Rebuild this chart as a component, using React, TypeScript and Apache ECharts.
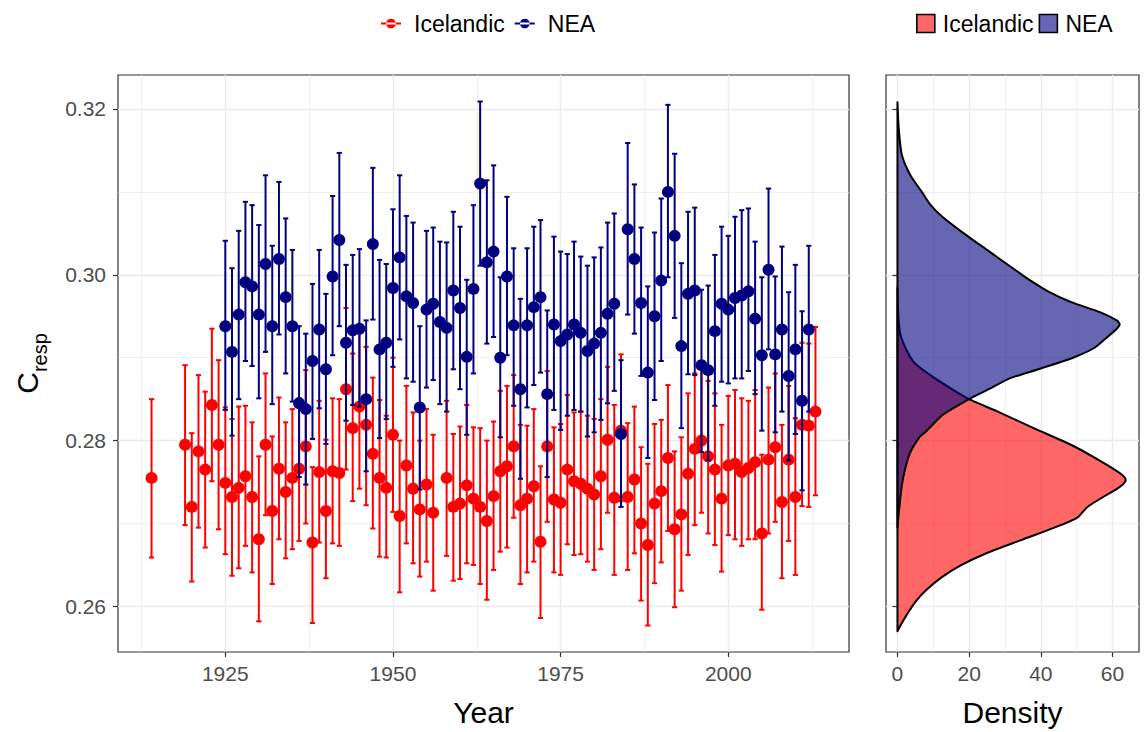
import React, { useEffect, useRef } from "react";
import * as echarts from "echarts";

// ---------- data ----------
const icelandicYears = [1914, 1919, 1920, 1921, 1922, 1923, 1924, 1925, 1926, 1927, 1928, 1929, 1930, 1931, 1932, 1933, 1934, 1935, 1936, 1937, 1938, 1939, 1940, 1941, 1942, 1943, 1944, 1945, 1946, 1947, 1948, 1949, 1950, 1951, 1952, 1953, 1954, 1955, 1956, 1958, 1959, 1960, 1961, 1962, 1963, 1964, 1965, 1966, 1967, 1968, 1969, 1970, 1971, 1972, 1973, 1974, 1975, 1976, 1977, 1978, 1979, 1980, 1981, 1982, 1983, 1984, 1985, 1986, 1987, 1988, 1989, 1990, 1991, 1992, 1993, 1994, 1995, 1996, 1997, 1998, 1999, 2000, 2001, 2002, 2003, 2004, 2005, 2006, 2007, 2008, 2009, 2010, 2011, 2012, 2013];
const icelandicMean = [0.2755, 0.2795, 0.2720, 0.2787, 0.2765, 0.2843, 0.2795, 0.2749, 0.2732, 0.2743, 0.2757, 0.2732, 0.2681, 0.2795, 0.2715, 0.2766, 0.2738, 0.2755, 0.2766, 0.2793, 0.2677, 0.2762, 0.2715, 0.2763, 0.2761, 0.2862, 0.2815, 0.2841, 0.2819, 0.2784, 0.2755, 0.2743, 0.2807, 0.2709, 0.2770, 0.2742, 0.2717, 0.2747, 0.2713, 0.2755, 0.2720, 0.2724, 0.2746, 0.2730, 0.2720, 0.2703, 0.2733, 0.2763, 0.2769, 0.2793, 0.2722, 0.2730, 0.2745, 0.2678, 0.2793, 0.2729, 0.2725, 0.2765, 0.2751, 0.2748, 0.2742, 0.2735, 0.2757, 0.2801, 0.2731, 0.2812, 0.2732, 0.2753, 0.2700, 0.2674, 0.2724, 0.2739, 0.2779, 0.2693, 0.2711, 0.2760, 0.2790, 0.2800, 0.2781, 0.2765, 0.2730, 0.2770, 0.2772, 0.2762, 0.2767, 0.2774, 0.2688, 0.2777, 0.2792, 0.2726, 0.2777, 0.2732, 0.2819, 0.2818, 0.2835];
const icelandicLow = [0.2659, 0.2698, 0.2630, 0.2695, 0.2671, 0.2751, 0.2693, 0.2663, 0.2637, 0.2646, 0.2673, 0.2641, 0.2582, 0.2710, 0.2627, 0.2681, 0.2658, 0.2669, 0.2679, 0.2700, 0.2580, 0.2677, 0.2634, 0.2676, 0.2673, 0.2765, 0.2727, 0.2742, 0.2722, 0.2694, 0.2660, 0.2659, 0.2714, 0.2617, 0.2676, 0.2652, 0.2636, 0.2654, 0.2619, 0.2661, 0.2631, 0.2633, 0.2652, 0.2650, 0.2627, 0.2608, 0.2644, 0.2666, 0.2671, 0.2707, 0.2627, 0.2641, 0.2654, 0.2586, 0.2702, 0.2641, 0.2638, 0.2675, 0.2662, 0.2663, 0.2654, 0.2644, 0.2669, 0.2713, 0.2638, 0.2727, 0.2644, 0.2664, 0.2607, 0.2577, 0.2628, 0.2653, 0.2691, 0.2599, 0.2619, 0.2662, 0.2698, 0.2713, 0.2688, 0.2674, 0.2642, 0.2686, 0.2681, 0.2673, 0.2681, 0.2681, 0.2596, 0.2688, 0.2702, 0.2634, 0.2679, 0.2638, 0.2721, 0.2720, 0.2734];
const icelandicHigh = [0.2850, 0.2891, 0.2809, 0.2879, 0.2859, 0.2935, 0.2897, 0.2840, 0.2826, 0.2841, 0.2842, 0.2822, 0.2781, 0.2881, 0.2805, 0.2852, 0.2822, 0.2838, 0.2851, 0.2885, 0.2768, 0.2848, 0.2801, 0.2851, 0.2850, 0.2960, 0.2905, 0.2938, 0.2913, 0.2876, 0.2849, 0.2830, 0.2900, 0.2800, 0.2866, 0.2834, 0.2800, 0.2838, 0.2807, 0.2848, 0.2808, 0.2817, 0.2843, 0.2816, 0.2815, 0.2800, 0.2823, 0.2860, 0.2866, 0.2879, 0.2819, 0.2818, 0.2838, 0.2769, 0.2884, 0.2816, 0.2820, 0.2855, 0.2834, 0.2835, 0.2830, 0.2826, 0.2850, 0.2889, 0.2843, 0.2904, 0.2821, 0.2841, 0.2792, 0.2772, 0.2820, 0.2825, 0.2867, 0.2787, 0.2804, 0.2857, 0.2881, 0.2888, 0.2872, 0.2857, 0.2819, 0.2854, 0.2861, 0.2851, 0.2848, 0.2861, 0.2783, 0.2864, 0.2881, 0.2819, 0.2866, 0.2827, 0.2918, 0.2917, 0.2937];

const neaYears = [1925, 1926, 1927, 1928, 1929, 1930, 1931, 1932, 1933, 1934, 1935, 1936, 1937, 1938, 1939, 1940, 1941, 1942, 1943, 1944, 1945, 1946, 1947, 1948, 1949, 1950, 1951, 1952, 1953, 1954, 1955, 1956, 1957, 1958, 1959, 1960, 1961, 1962, 1963, 1964, 1965, 1966, 1967, 1968, 1969, 1970, 1971, 1972, 1973, 1974, 1975, 1976, 1977, 1978, 1979, 1980, 1981, 1982, 1983, 1984, 1985, 1986, 1987, 1988, 1989, 1990, 1991, 1992, 1993, 1994, 1995, 1996, 1997, 1998, 1999, 2000, 2001, 2002, 2003, 2004, 2005, 2006, 2007, 2008, 2009, 2010, 2011, 2012];
const neaMean = [0.2938, 0.2907, 0.2952, 0.2991, 0.2986, 0.2952, 0.3013, 0.2938, 0.3019, 0.2973, 0.2938, 0.2845, 0.2838, 0.2896, 0.2934, 0.2886, 0.2998, 0.3042, 0.2918, 0.2933, 0.2935, 0.2850, 0.3037, 0.2910, 0.2918, 0.2984, 0.3021, 0.2974, 0.2966, 0.2840, 0.2958, 0.2965, 0.2943, 0.2936, 0.2981, 0.2960, 0.2901, 0.2983, 0.3110, 0.3015, 0.3028, 0.2900, 0.2998, 0.2939, 0.2862, 0.2939, 0.2961, 0.2973, 0.2856, 0.2940, 0.2920, 0.2928, 0.2940, 0.2930, 0.2908, 0.2917, 0.2930, 0.2953, 0.2965, 0.2808, 0.3055, 0.3019, 0.2966, 0.2882, 0.2950, 0.2993, 0.3100, 0.3047, 0.2914, 0.2977, 0.2981, 0.2891, 0.2885, 0.2932, 0.2965, 0.2958, 0.2972, 0.2975, 0.2980, 0.2947, 0.2903, 0.3006, 0.2904, 0.2934, 0.2878, 0.2910, 0.2848, 0.2934];
const neaLow = [0.2837, 0.2806, 0.2850, 0.2896, 0.2890, 0.2851, 0.2907, 0.2844, 0.2928, 0.2881, 0.2847, 0.2756, 0.2747, 0.2802, 0.2839, 0.2796, 0.2903, 0.2938, 0.2824, 0.2843, 0.2841, 0.2763, 0.2946, 0.2803, 0.2826, 0.2889, 0.2922, 0.2875, 0.2871, 0.2741, 0.2864, 0.2873, 0.2844, 0.2835, 0.2886, 0.2862, 0.2807, 0.2881, 0.3011, 0.2917, 0.2925, 0.2804, 0.2903, 0.2842, 0.2754, 0.2840, 0.2867, 0.2882, 0.2756, 0.2837, 0.2813, 0.2830, 0.2837, 0.2835, 0.2805, 0.2810, 0.2825, 0.2845, 0.2860, 0.2720, 0.2952, 0.2929, 0.2878, 0.2779, 0.2849, 0.2896, 0.2997, 0.2948, 0.2815, 0.2880, 0.2879, 0.2786, 0.2776, 0.2842, 0.2871, 0.2869, 0.2875, 0.2875, 0.2884, 0.2856, 0.2812, 0.2910, 0.2810, 0.2835, 0.2776, 0.2808, 0.2740, 0.2835];
const neaHigh = [0.3041, 0.3008, 0.3053, 0.3088, 0.3084, 0.3060, 0.3120, 0.3035, 0.3112, 0.3068, 0.3030, 0.2938, 0.2929, 0.2989, 0.3030, 0.2977, 0.3095, 0.3147, 0.3012, 0.3024, 0.3031, 0.2945, 0.3129, 0.3018, 0.3013, 0.3079, 0.3120, 0.3071, 0.3063, 0.2938, 0.3053, 0.3057, 0.3040, 0.3039, 0.3076, 0.3058, 0.2994, 0.3084, 0.3209, 0.3114, 0.3132, 0.2997, 0.3094, 0.3032, 0.2971, 0.3032, 0.3058, 0.3066, 0.2957, 0.3046, 0.3028, 0.3025, 0.3040, 0.3022, 0.3011, 0.3021, 0.3033, 0.3063, 0.3074, 0.2897, 0.3159, 0.3109, 0.3057, 0.2986, 0.3051, 0.3092, 0.3205, 0.3146, 0.3014, 0.3076, 0.3081, 0.2982, 0.2987, 0.3024, 0.3058, 0.3047, 0.3070, 0.3078, 0.3080, 0.3040, 0.2997, 0.3104, 0.2998, 0.3034, 0.2979, 0.3012, 0.2956, 0.3035];

// density curves (value of C_resp, density), from top to bottom
const icelandicDensityY = [0.2985, 0.2945, 0.2925, 0.2895, 0.2875, 0.2860, 0.2850, 0.2835, 0.2815, 0.2795, 0.2775, 0.2760, 0.27525, 0.2745, 0.2735, 0.2720, 0.27075, 0.2695, 0.2680, 0.2665, 0.2650, 0.2635, 0.2620, 0.2605, 0.2590, 0.25775, 0.2570];
const icelandicDensity = [0, 0.3, 1.0, 4.5, 10.5, 16, 20, 28, 38, 48.4, 56.8, 62.3, 63.7, 62.3, 58.6, 53, 50.3, 43.8, 34.5, 25.3, 17.9, 12.3, 8.1, 4.9, 2.6, 0.9, 0];
const neaDensityY = [0.3208, 0.3180, 0.3145, 0.3120, 0.3100, 0.3085, 0.3070, 0.3050, 0.3030, 0.3010, 0.2995, 0.2980, 0.2967, 0.2955, 0.2945, 0.2940, 0.2935, 0.2925, 0.2912, 0.2900, 0.2887, 0.28745, 0.2862, 0.2850, 0.2835, 0.2830, 0.2810, 0.2805, 0.2785, 0.2765, 0.2745, 0.2710, 0.2695];
const neaDensity = [0, 0.3, 1.2, 3.6, 6.8, 9.1, 12.5, 18.5, 25, 31.5, 36.4, 42, 48.5, 56.5, 61.2, 62, 61.2, 58.6, 55, 49, 40, 31, 25.5, 20, 14, 12.3, 7.7, 6.3, 3.5, 2.1, 1.2, 0.3, 0];

const yearTicks = [1925, 1950, 1975, 2000];
const yearMinor = [1912.5, 1937.5, 1962.5, 1987.5, 2012.5];
const cTicks = [0.26, 0.28, 0.30, 0.32];
const cMinor = [0.27, 0.29, 0.31];
const densityTicks = [0, 20, 40, 60];
const densityMinor = [10, 30, 50];

const RED = "#FF0000";
const NAVY = "#000080";
const RED_FILL = "rgba(255,0,0,0.6)";
const NAVY_FILL = "rgba(0,0,128,0.6)";
const FONT = "'Liberation Sans', Arial, Helvetica, sans-serif";

const KEY_ICON = "path://M0,4h20v2h-20z M10,0.2a4.8,4.8 0 1,0 0.001,0z";

function errorBarSeries(name: string, years: number[], lo: number[], hi: number[], color: string, z: number) {
  return {
    type: "custom",
    xAxisIndex: 0,
    yAxisIndex: 0,
    z,
    silent: true,
    data: years.map((y, i) => [y, lo[i], hi[i]]),
    encode: { x: 0, y: [1, 2] },
    renderItem: (params: any, api: any) => {
      const x = api.value(0);
      const pLo = api.coord([x, api.value(1)]);
      const pHi = api.coord([x, api.value(2)]);
      const cap = 2.6;
      const st = { stroke: color, lineWidth: 2 };
      return {
        type: "group",
        children: [
          { type: "line", shape: { x1: pLo[0], y1: pLo[1], x2: pHi[0], y2: pHi[1] }, style: st },
          { type: "line", shape: { x1: pLo[0] - cap, y1: pLo[1], x2: pLo[0] + cap, y2: pLo[1] }, style: st },
          { type: "line", shape: { x1: pHi[0] - cap, y1: pHi[1], x2: pHi[0] + cap, y2: pHi[1] }, style: st },
        ],
      };
    },
  };
}

function densitySeries(name: string, ys: number[], ds: number[], fill: string, z: number) {
  return {
    type: "custom",
    name,
    xAxisIndex: 2,
    yAxisIndex: 2,
    z,
    silent: true,
    data: ds.map((d, i) => [d, ys[i]]),
    encode: { x: 0, y: 1 },
    itemStyle: { color: fill },
    renderItem: (params: any, api: any) => {
      if (params.dataIndex !== 0) return null;
      const pts: number[][] = [];
      pts.push(api.coord([0, ys[0]]));
      for (let i = 0; i < ys.length; i++) pts.push(api.coord([ds[i], ys[i]]));
      pts.push(api.coord([0, ys[ys.length - 1]]));
      return {
        type: "polygon",
        shape: { points: pts, smooth: 0.25 },
        style: { fill, stroke: "#000000", lineWidth: 2, lineJoin: "round" },
      };
    },
  };
}

const majorSplit = { show: true, lineStyle: { color: "#EBEBEB", width: 1.4 } };
const minorSplit = { show: true, lineStyle: { color: "#EBEBEB", width: 0.7 } };
const tickStyle = { show: true, inside: false, length: 5, lineStyle: { color: "#333333", width: 1.2 } };
const labelStyle = { color: "#4D4D4D", fontSize: 21, fontFamily: FONT };

export default function App() {
  const ref = useRef<HTMLDivElement>(null);
  useEffect(() => {
    document.body.style.margin = "0";
    const chart = echarts.init(ref.current!, null, { renderer: "svg" });
    const option: any = {
      animation: false,
      backgroundColor: "#FFFFFF",
      textStyle: { fontFamily: FONT },
      grid: [
        { left: 118, top: 75, width: 731, height: 587, show: true, borderColor: "#333333", borderWidth: 1.2, backgroundColor: "#FFFFFF" },
        { left: 886, top: 75, width: 253, height: 587, show: true, borderColor: "#333333", borderWidth: 1.2, backgroundColor: "#FFFFFF" },
      ],
      legend: [
        {
          left: 376,
          top: 7,
          itemWidth: 20,
          itemHeight: 10,
          itemGap: 10,
          selectedMode: false,
          textStyle: { fontSize: 23, color: "#000000", fontFamily: FONT, padding: [0, 0, 0, 8] },
          data: [
            { name: "Icelandic", icon: KEY_ICON, itemStyle: { color: RED } },
            { name: "NEA", icon: KEY_ICON, itemStyle: { color: NAVY } },
          ],
        },
        {
          left: 911,
          top: 7,
          itemWidth: 18,
          itemHeight: 18,
          itemGap: 5,
          selectedMode: false,
          textStyle: { fontSize: 23, color: "#000000", fontFamily: FONT, padding: [0, 0, 0, 3] },
          data: [
            { name: "Icelandic", icon: "rect", itemStyle: { color: RED_FILL, borderColor: "#000000", borderWidth: 1.6 } },
            { name: "NEA", icon: "rect", itemStyle: { color: NAVY_FILL, borderColor: "#000000", borderWidth: 1.6 } },
          ],
        },
      ],
      xAxis: [
        {
          type: "value", gridIndex: 0, min: 1909, max: 2018, position: "bottom",
          axisLine: { show: false },
          axisTick: { ...tickStyle, customValues: yearTicks },
          axisLabel: { ...labelStyle, margin: 11, customValues: yearTicks, formatter: (v: number) => String(v) },
          splitLine: majorSplit,
          name: "Year", nameLocation: "middle", nameGap: 45,
          nameTextStyle: { fontSize: 30, color: "#000000", fontFamily: FONT },
        },
        {
          type: "value", gridIndex: 0, min: 1909, max: 2018, position: "bottom",
          axisLine: { show: false },
          axisTick: { show: false, customValues: yearMinor },
          axisLabel: { show: false },
          splitLine: minorSplit,
        },
        {
          type: "value", gridIndex: 1, min: -3.2, max: 67.4, position: "bottom",
          axisLine: { show: false },
          axisTick: { ...tickStyle, customValues: densityTicks },
          axisLabel: { ...labelStyle, margin: 11, customValues: densityTicks, formatter: (v: number) => String(v) },
          splitLine: majorSplit,
          name: "Density", nameLocation: "middle", nameGap: 45,
          nameTextStyle: { fontSize: 30, color: "#000000", fontFamily: FONT },
        },
        {
          type: "value", gridIndex: 1, min: -3.2, max: 67.4, position: "bottom",
          axisLine: { show: false },
          axisTick: { show: false, customValues: densityMinor },
          axisLabel: { show: false },
          splitLine: minorSplit,
        },
      ],
      yAxis: [
        {
          type: "value", gridIndex: 0, min: 0.2545, max: 0.3241, position: "left",
          axisLine: { show: false },
          axisTick: { ...tickStyle, customValues: cTicks },
          axisLabel: { ...labelStyle, margin: 12, customValues: cTicks, formatter: (v: number) => v.toFixed(2) },
          splitLine: majorSplit,
          name: "{c|C}{s|resp}", nameLocation: "middle", nameGap: 76, nameRotate: 90,
          nameTextStyle: {
            rich: {
              c: { fontSize: 30, color: "#000000", fontFamily: FONT, verticalAlign: "bottom", lineHeight: 32 },
              s: { fontSize: 20, color: "#000000", fontFamily: FONT, verticalAlign: "bottom", lineHeight: 22, padding: [0, 0, -8, 0] },
            },
          },
        },
        {
          type: "value", gridIndex: 0, min: 0.2545, max: 0.3241, position: "left",
          axisLine: { show: false },
          axisTick: { show: false, customValues: cMinor },
          axisLabel: { show: false },
          splitLine: minorSplit,
        },
        {
          type: "value", gridIndex: 1, min: 0.2545, max: 0.3241, position: "left",
          axisLine: { show: false },
          axisTick: { ...tickStyle, customValues: cTicks },
          axisLabel: { show: false },
          splitLine: majorSplit,
        },
        {
          type: "value", gridIndex: 1, min: 0.2545, max: 0.3241, position: "left",
          axisLine: { show: false },
          axisTick: { show: false, customValues: cMinor },
          axisLabel: { show: false },
          splitLine: minorSplit,
        },
      ],
      series: [
        errorBarSeries("Icelandic", icelandicYears, icelandicLow, icelandicHigh, RED, 2),
        {
          type: "scatter", name: "Icelandic", xAxisIndex: 0, yAxisIndex: 0, z: 3,
          symbol: "circle", symbolSize: 12, itemStyle: { color: RED, opacity: 1 },
          data: icelandicYears.map((y, i) => [y, icelandicMean[i]]),
        },
        errorBarSeries("NEA", neaYears, neaLow, neaHigh, NAVY, 4),
        {
          type: "scatter", name: "NEA", xAxisIndex: 0, yAxisIndex: 0, z: 5,
          symbol: "circle", symbolSize: 12, itemStyle: { color: NAVY, opacity: 1 },
          data: neaYears.map((y, i) => [y, neaMean[i]]),
        },
        densitySeries("Icelandic", icelandicDensityY, icelandicDensity, RED_FILL, 2),
        densitySeries("NEA", neaDensityY, neaDensity, NAVY_FILL, 3),
      ],
    };
    chart.setOption(option);
    return () => chart.dispose();
  }, []);
  return <div ref={ref} style={{ position: "fixed", left: 0, top: 0, width: 1146, height: 732 }} />;
}
